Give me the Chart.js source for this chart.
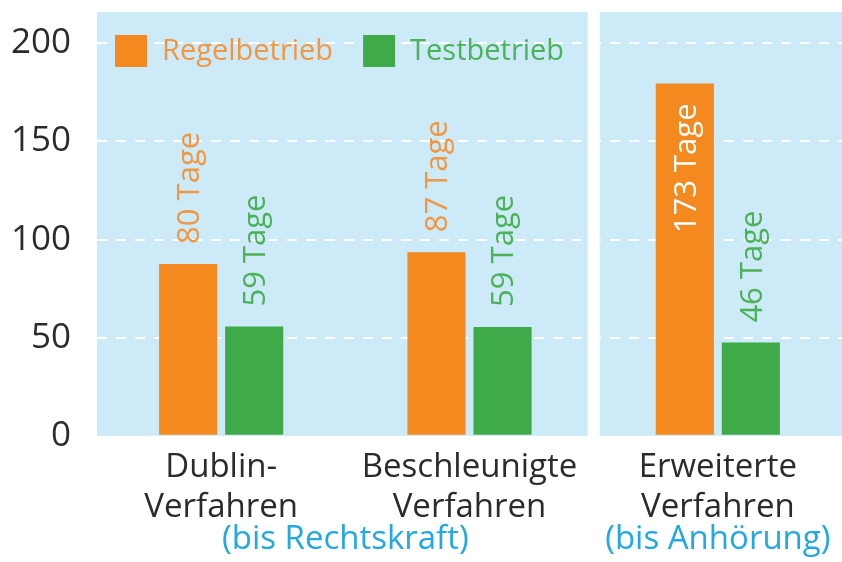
<!DOCTYPE html>
<html>
<head>
<meta charset="utf-8">
<script src="https://cdn.jsdelivr.net/npm/chart.js@4"></script>
<style>
  body { margin: 0; background: #fff; }
</style>
</head>
<body>
<canvas id="chart" width="842" height="562"></canvas>
<script>
// data
const categories = [['Dublin-', 'Verfahren'], ['Beschleunigte', 'Verfahren'], ['Erweiterte', 'Verfahren']];
const notes = ['(bis Rechtskraft)', '(bis Anhörung)'];
const noteGroups = [[0, 1], [2]];
const regelbetrieb = [87.6, 93.5, 179.6];
const testbetrieb = [55.7, 55.5, 47.5];
const regelLabels = [80, 87, 173];
const testLabels = [59, 59, 46];
const yTicks = [0, 50, 100, 150, 200];

const orange = '#f3891f';
const green = '#3eab48';
const orangeText = '#f2963f';
const greenText = '#4bb257';
const panelBlue = '#cdeaf9';
const noteBlue = '#22a8e2';
const font = "'Open Sans', sans-serif";

// light blue panels, split between 2nd and 3rd category
const panels = {
  id: 'panels',
  beforeDraw(chart) {
    const { ctx, chartArea: a } = chart;
    ctx.save();
    ctx.fillStyle = panelBlue;
    ctx.fillRect(a.left, a.top, a.right - a.left, a.bottom - a.top);
    ctx.restore();
  },
  beforeDatasetsDraw(chart) {
    const { ctx, chartArea: a, scales } = chart;
    const mid = (scales.x.getPixelForValue(1) + scales.x.getPixelForValue(2)) / 2;
    ctx.save();
    ctx.fillStyle = '#fff';
    ctx.fillRect(mid - 6, a.top - 1, 12, a.bottom - a.top + 2);
    ctx.restore();
  }
};

// legend drawn inside the first panel
const legendInside = {
  id: 'legendInside',
  afterDatasetsDraw(chart) {
    const { ctx, chartArea: a } = chart;
    const colors = [orangeText, greenText];
    let x = a.left + 18;
    const y = a.top + 23;
    ctx.save();
    ctx.font = '29px ' + font;
    ctx.textBaseline = 'middle';
    ctx.textAlign = 'left';
    chart.data.datasets.forEach((ds, i) => {
      ctx.fillStyle = ds.backgroundColor;
      ctx.fillRect(x, y, 32, 32);
      x += 32 + 15;
      ctx.fillStyle = colors[i];
      ctx.fillText(ds.label, x, y + 17);
      x += ctx.measureText(ds.label).width + 30;
    });
    ctx.restore();
  }
};

// rotated "xx Tage" labels
const valueLabels = {
  id: 'valueLabels',
  afterDatasetsDraw(chart) {
    const { ctx, chartArea: a } = chart;
    const texts = [regelLabels, testLabels];
    const colors = [orangeText, greenText];
    ctx.save();
    ctx.font = '31px ' + font;
    ctx.textBaseline = 'middle';
    chart.data.datasets.forEach((ds, i) => {
      chart.getDatasetMeta(i).data.forEach((bar, j) => {
        const txt = texts[i][j] + ' Tage';
        const w = ctx.measureText(txt).width;
        ctx.save();
        if (bar.y - 20 - w < a.top) {
          ctx.translate(bar.x + 2, bar.y + 20);
          ctx.rotate(-Math.PI / 2);
          ctx.textAlign = 'right';
          ctx.fillStyle = '#fff';
        } else {
          ctx.translate(bar.x + 2, bar.y - 20);
          ctx.rotate(-Math.PI / 2);
          ctx.textAlign = 'left';
          ctx.fillStyle = colors[i];
        }
        ctx.fillText(txt, 0, 0);
        ctx.restore();
      });
    });
    ctx.restore();
  }
};

// blue notes under the category labels
const notesPlugin = {
  id: 'notes',
  afterDraw(chart) {
    const { ctx, scales } = chart;
    ctx.save();
    ctx.font = '33px ' + font;
    ctx.fillStyle = noteBlue;
    ctx.textAlign = 'center';
    ctx.textBaseline = 'alphabetic';
    noteGroups.forEach((g, i) => {
      const xs = g.map(k => scales.x.getPixelForValue(k));
      const x = xs.reduce((s, v) => s + v, 0) / xs.length;
      ctx.fillText(notes[i], x, 549);
    });
    ctx.restore();
  }
};

new Chart(document.getElementById('chart'), {
  type: 'bar',
  data: {
    labels: categories,
    datasets: [
      { label: 'Regelbetrieb', data: regelbetrieb, backgroundColor: orange },
      { label: 'Testbetrieb', data: testbetrieb, backgroundColor: green }
    ]
  },
  options: {
    responsive: false,
    animation: false,
    categoryPercentage: 0.532,
    barPercentage: 0.88,
    layout: { padding: { top: 12, left: 12, right: 0, bottom: 31 } },
    plugins: {
      tooltip: { enabled: false },
      legend: { display: false }
    },
    scales: {
      x: {
        grid: { display: false },
        border: { display: false },
        ticks: {
          color: '#2b2b2b',
          padding: 4,
          font: { family: font, size: 33, lineHeight: 1.2 }
        }
      },
      y: {
        min: 0,
        max: 216,
        afterBuildTicks(scale) {
          scale.ticks = yTicks.map(v => ({ value: v }));
        },
        afterFit(scale) {
          scale.width = 85;
          scale.paddingTop = 0;
          scale.paddingBottom = 0;
        },
        grid: {
          drawTicks: false,
          lineWidth: 2,
          color: c => (c.tick && c.tick.value === 0) ? 'rgba(0,0,0,0)' : '#ffffff'
        },
        border: { display: false, dash: [10, 9] },
        ticks: {
          color: '#2b2b2b',
          padding: 26,
          font: { family: font, size: 35 }
        }
      }
    }
  },
  plugins: [panels, legendInside, valueLabels, notesPlugin]
});
</script>
</body>
</html>
